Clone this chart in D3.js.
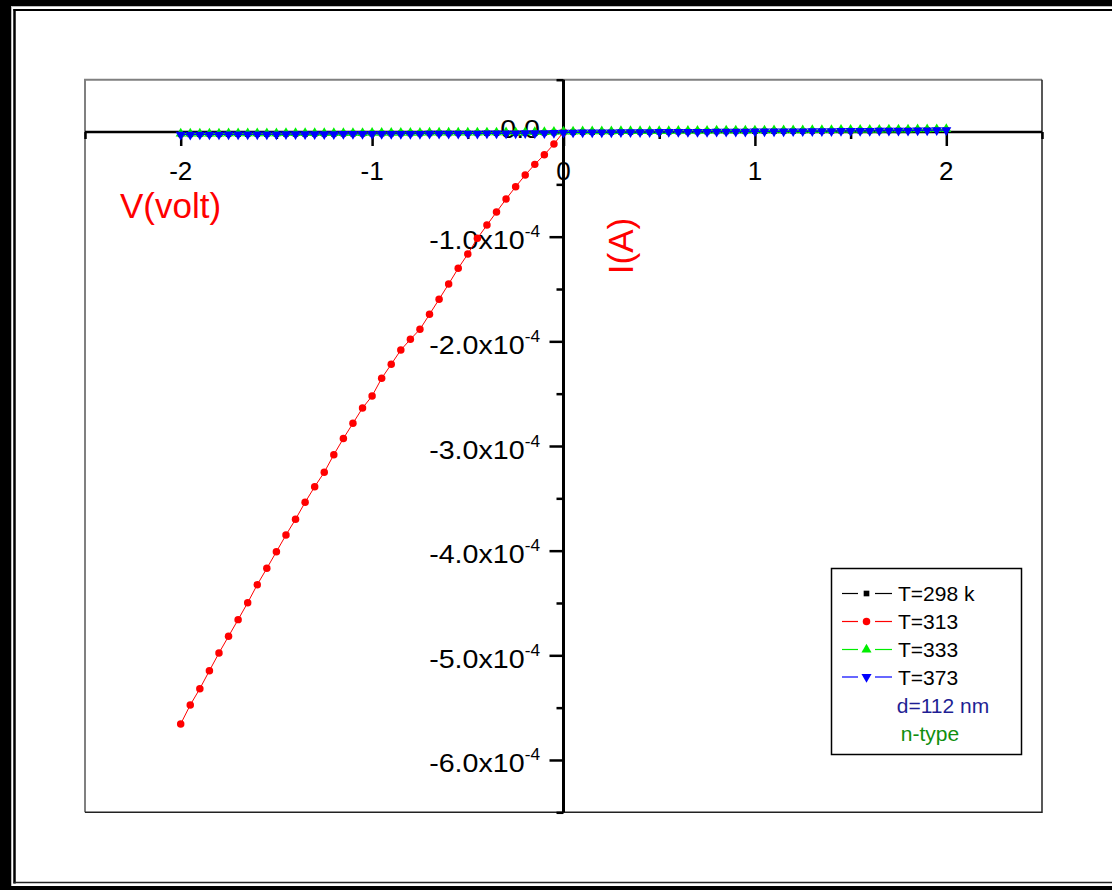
<!DOCTYPE html>
<html>
<head>
<meta charset="utf-8">
<script src="https://cdn.jsdelivr.net/npm/d3@7"></script>
<style>
  html, body { margin: 0; padding: 0; background: #fff; }
  svg { display: block; }
  text { font-family: "Liberation Sans", Arial, sans-serif; }
</style>
</head>
<body>
<svg id="chart" width="1112" height="890"></svg>
<script>
// Sweep voltage (V)
const V = [
  -2.00,-1.95,-1.90,-1.85,-1.80,-1.75,-1.70,-1.65,-1.60,-1.55,
  -1.50,-1.45,-1.40,-1.35,-1.30,-1.25,-1.20,-1.15,-1.10,-1.05,
  -1.00,-0.95,-0.90,-0.85,-0.80,-0.75,-0.70,-0.65,-0.60,-0.55,
  -0.50,-0.45,-0.40,-0.35,-0.30,-0.25,-0.20,-0.15,-0.10,-0.05,
   0.00, 0.05, 0.10, 0.15, 0.20, 0.25, 0.30, 0.35, 0.40, 0.45,
   0.50, 0.55, 0.60, 0.65, 0.70, 0.75, 0.80, 0.85, 0.90, 0.95,
   1.00, 1.05, 1.10, 1.15, 1.20, 1.25, 1.30, 1.35, 1.40, 1.45,
   1.50, 1.55, 1.60, 1.65, 1.70, 1.75, 1.80, 1.85, 1.90, 1.95, 2.00
];

// Currents in units of 1e-4 A
const I298 = [
  -0.022,-0.022,-0.021,-0.021,-0.021,-0.020,-0.020,-0.020,-0.019,-0.019,
  -0.019,-0.018,-0.018,-0.018,-0.017,-0.017,-0.017,-0.016,-0.016,-0.016,
  -0.015,-0.015,-0.015,-0.014,-0.014,-0.014,-0.013,-0.013,-0.013,-0.012,
  -0.012,-0.012,-0.011,-0.011,-0.010,-0.010,-0.009,-0.008,-0.007,-0.005,
  -0.003,-0.002,-0.001,-0.001, 0.000, 0.000, 0.001, 0.001, 0.002, 0.002,
   0.003, 0.003, 0.004, 0.004, 0.005, 0.005, 0.006, 0.006, 0.007, 0.007,
   0.008, 0.008, 0.009, 0.009, 0.010, 0.010, 0.011, 0.011, 0.012, 0.013,
   0.013, 0.014, 0.014, 0.015, 0.016, 0.016, 0.017, 0.018, 0.019, 0.020, 0.021
];

// T=313 was measured on the reverse branch only (-2 V .. 0 V)
const I313 = [
  -5.656,-5.474,-5.319,-5.147,-4.978,-4.818,-4.659,-4.497,-4.325,-4.169,
  -4.010,-3.850,-3.700,-3.538,-3.389,-3.251,-3.083,-2.928,-2.783,-2.637,
  -2.522,-2.353,-2.219,-2.083,-1.981,-1.885,-1.742,-1.598,-1.452,-1.302,
  -1.166,-1.016,-0.889,-0.764,-0.640,-0.523,-0.411,-0.309,-0.217,-0.115,
   0.000
];

const I333 = [
  -0.015,-0.015,-0.014,-0.014,-0.014,-0.013,-0.013,-0.013,-0.012,-0.012,
  -0.012,-0.011,-0.011,-0.011,-0.010,-0.010,-0.010,-0.009,-0.009,-0.009,
  -0.008,-0.008,-0.008,-0.007,-0.007,-0.007,-0.006,-0.006,-0.006,-0.005,
  -0.005,-0.005,-0.004,-0.004,-0.003,-0.003,-0.002,-0.001, 0.000, 0.002,
   0.004, 0.005, 0.006, 0.006, 0.007, 0.007, 0.008, 0.008, 0.009, 0.009,
   0.010, 0.010, 0.011, 0.011, 0.012, 0.012, 0.013, 0.013, 0.014, 0.014,
   0.015, 0.015, 0.016, 0.016, 0.017, 0.017, 0.018, 0.018, 0.019, 0.020,
   0.020, 0.021, 0.021, 0.022, 0.023, 0.023, 0.024, 0.025, 0.026, 0.027, 0.028
];

const I373 = [
  -0.025,-0.025,-0.024,-0.024,-0.024,-0.023,-0.023,-0.023,-0.022,-0.022,
  -0.022,-0.021,-0.021,-0.021,-0.020,-0.020,-0.020,-0.019,-0.019,-0.019,
  -0.018,-0.018,-0.018,-0.017,-0.017,-0.017,-0.016,-0.016,-0.016,-0.015,
  -0.015,-0.015,-0.014,-0.014,-0.013,-0.013,-0.012,-0.011,-0.010,-0.008,
  -0.006,-0.005,-0.004,-0.004,-0.003,-0.003,-0.002,-0.002,-0.001,-0.001,
   0.000, 0.000, 0.001, 0.001, 0.002, 0.002, 0.003, 0.003, 0.004, 0.004,
   0.005, 0.005, 0.006, 0.006, 0.007, 0.007, 0.008, 0.008, 0.009, 0.010,
   0.010, 0.011, 0.011, 0.012, 0.013, 0.013, 0.014, 0.015, 0.016, 0.017, 0.018
];

// Axis ticks and labels
const xMajor = [-2, -1, 0, 1, 2];
const xMinor = [-2.5, -1.5, -0.5, 0.5, 1.5, 2.5];
const xLabels = ["-2", "-1", "0", "1", "2"];
const yMajor = [0, -1, -2, -3, -4, -5, -6];
const yMinor = [0.5, -0.5, -1.5, -2.5, -3.5, -4.5, -5.5, -6.5];
const yLabels = ["0.0", "-1.0x10", "-2.0x10", "-3.0x10", "-4.0x10", "-5.0x10", "-6.0x10"];

const legendNames = ["T=298 k", "T=313", "T=333", "T=373"];
const legendNotes = ["d=112 nm", "n-type"];

const svg = d3.select("#chart");

// ---- page border ----
const border = svg.append("g");
border.append("rect").attr("x", 0).attr("y", 0).attr("width", 11).attr("height", 890).attr("fill", "#000");
border.append("rect").attr("x", 0).attr("y", 0).attr("width", 1112).attr("height", 6).attr("fill", "#000");
border.append("rect").attr("x", 0).attr("y", 886).attr("width", 1112).attr("height", 4).attr("fill", "#000");
border.append("line").attr("x1", 11.5).attr("x2", 11.5).attr("y1", 6).attr("y2", 886).attr("stroke", "#bbb").attr("stroke-width", 1);
border.append("line").attr("x1", 11).attr("x2", 1112).attr("y1", 6.5).attr("y2", 6.5).attr("stroke", "#bbb").attr("stroke-width", 1);
border.append("line").attr("x1", 14.5).attr("x2", 14.5).attr("y1", 9).attr("y2", 883.5).attr("stroke", "#000").attr("stroke-width", 2.5);
border.append("line").attr("x1", 13.5).attr("x2", 1112).attr("y1", 10).attr("y2", 10).attr("stroke", "#000").attr("stroke-width", 2);
border.append("line").attr("x1", 13.5).attr("x2", 1112).attr("y1", 882.5).attr("y2", 882.5).attr("stroke", "#222").attr("stroke-width", 1.5);

// ---- scales ----
const x = d3.scaleLinear().domain([-2.5, 2.5]).range([85, 1042]);
const y = d3.scaleLinear().domain([-6.5, 0.5]).range([812.3, 79.7]);

// ---- layer frame ----
const frame = svg.append("g");
frame.append("path")
  .attr("d", `M${x(-2.5)},${y(-6.5)}V${y(0.5)}H${x(2.5)}`)
  .attr("fill", "none").attr("stroke", "#808080").attr("stroke-width", 2);
frame.append("path")
  .attr("d", `M${x(2.5)},${y(0.5)}V${y(-6.5)}H${x(-2.5)}`)
  .attr("fill", "none").attr("stroke", "#222").attr("stroke-width", 1.5);

// ---- axes through the origin ----
const axes = svg.append("g");
const xAxisY = y(0), yAxisX = x(0);

const xAxisG = axes.append("g").attr("transform", `translate(0,${xAxisY})`);
xAxisG.call(d3.axisBottom(x).tickValues(xMajor).tickSize(14).tickFormat(""));
xAxisG.call(g => g.select(".domain").remove());
const xMinorG = axes.append("g").attr("transform", `translate(0,${xAxisY})`);
xMinorG.call(d3.axisBottom(x).tickValues(xMinor).tickSize(7).tickFormat(""));
xMinorG.call(g => g.select(".domain").remove());

const yAxisG = axes.append("g").attr("transform", `translate(${yAxisX},0)`);
yAxisG.call(d3.axisLeft(y).tickValues(yMajor).tickSize(14).tickFormat(""));
yAxisG.call(g => g.select(".domain").remove());
const yMinorG = axes.append("g").attr("transform", `translate(${yAxisX},0)`);
yMinorG.call(d3.axisLeft(y).tickValues(yMinor).tickSize(7).tickFormat(""));
yMinorG.call(g => g.select(".domain").remove());

axes.selectAll(".tick line").attr("stroke", "#000").attr("stroke-width", 2.5);

axes.append("line")
  .attr("x1", x(-2.5)).attr("x2", x(2.5)).attr("y1", xAxisY).attr("y2", xAxisY)
  .attr("stroke", "#000").attr("stroke-width", 2.5);
axes.append("line")
  .attr("x1", yAxisX).attr("x2", yAxisX).attr("y1", y(0.5)).attr("y2", y(-6.5))
  .attr("stroke", "#000").attr("stroke-width", 3);

// x tick labels
axes.selectAll("text.xlab").data(xMajor).join("text")
  .attr("class", "xlab")
  .attr("x", d => x(d)).attr("y", xAxisY + 48)
  .attr("text-anchor", "middle").attr("font-size", 26).attr("fill", "#000")
  .text((d, i) => xLabels[i]);

// y tick labels (mantissa x10 with superscript exponent)
const yl = axes.selectAll("g.ylab").data(yMajor).join("g")
  .attr("class", "ylab")
  .attr("transform", d => `translate(540,${d === 0 ? y(d) + 6 : y(d) + 12.5}) scale(1.08,1)`);
yl.each(function (d, i) {
  const t = d3.select(this).append("text")
    .attr("text-anchor", "end").attr("font-size", 26.5).attr("fill", "#000");
  if (d === 0) {
    t.text(yLabels[i]);
  } else {
    t.append("tspan").text(yLabels[i]);
    t.append("tspan").attr("font-size", 16).attr("dy", -12).text("-4");
  }
});

// axis titles
svg.append("text").attr("x", 120).attr("y", 217.5)
  .attr("font-size", 35).attr("fill", "#ff0000").text("V(volt)");
svg.append("text")
  .attr("transform", `translate(633,246) rotate(-90)`)
  .attr("text-anchor", "middle").attr("font-size", 35).attr("fill", "#ff0000").text("I(A)");

// ---- series ----
const colors = ["#000000", "#ff0000", "#00ee00", "#0000ff"];
const series = [
  { v: V, i: I298, color: colors[0], sym: "square" },
  { v: V.slice(0, I313.length), i: I313, color: colors[1], sym: "circle" },
  { v: V, i: I333, color: colors[2], sym: "up" },
  { v: V, i: I373, color: colors[3], sym: "down" }
];

function symbolPath(kind) {
  if (kind === "square") return d3.symbol().type(d3.symbolSquare).size(32)();
  if (kind === "circle") return d3.symbol().type(d3.symbolCircle).size(44)();
  return d3.symbol().type(d3.symbolTriangle).size(44)();
}

const line = d3.line().x(d => x(d[0])).y(d => y(d[1]));
const plot = svg.append("g");
series.forEach(s => {
  const pts = s.v.map((v, k) => [v, s.i[k]]);
  const g = plot.append("g");
  g.append("path").datum(pts).attr("d", line)
    .attr("fill", "none").attr("stroke", s.color).attr("stroke-width", 1);
  g.selectAll("path.m").data(pts).join("path").attr("class", "m")
    .attr("d", symbolPath(s.sym))
    .attr("transform", d => `translate(${x(d[0])},${y(d[1])})${s.sym === "down" ? " rotate(180)" : ""}`)
    .attr("fill", s.color);
});

// ---- legend ----
const lg = svg.append("g");
lg.append("rect").attr("x", 831.5).attr("y", 568.5).attr("width", 190).attr("height", 186)
  .attr("fill", "#fff").attr("stroke", "#000").attr("stroke-width", 1.5);
const rowY = [593.5, 621.5, 649.5, 677];
series.forEach((s, k) => {
  const cy = rowY[k];
  lg.append("line").attr("x1", 842).attr("x2", 858).attr("y1", cy).attr("y2", cy)
    .attr("stroke", s.color).attr("stroke-width", 1.2);
  lg.append("line").attr("x1", 875).attr("x2", 892).attr("y1", cy).attr("y2", cy)
    .attr("stroke", s.color).attr("stroke-width", 1.2);
  lg.append("path").attr("d", symbolPath(s.sym))
    .attr("transform", `translate(866.5,${cy})${s.sym === "down" ? " rotate(180)" : ""}`)
    .attr("fill", s.color);
  lg.append("text").attr("x", 898).attr("y", cy + 7.5).attr("font-size", 21)
    .attr("fill", "#000").text(legendNames[k]);
});
lg.append("text").attr("x", 943).attr("y", 713).attr("text-anchor", "middle")
  .attr("font-size", 21).attr("fill", "#1f1f94").text(legendNotes[0]);
lg.append("text").attr("x", 930).attr("y", 740.5).attr("text-anchor", "middle")
  .attr("font-size", 21).attr("fill", "#0f8f0f").text(legendNotes[1]);
</script>
</body>
</html>
